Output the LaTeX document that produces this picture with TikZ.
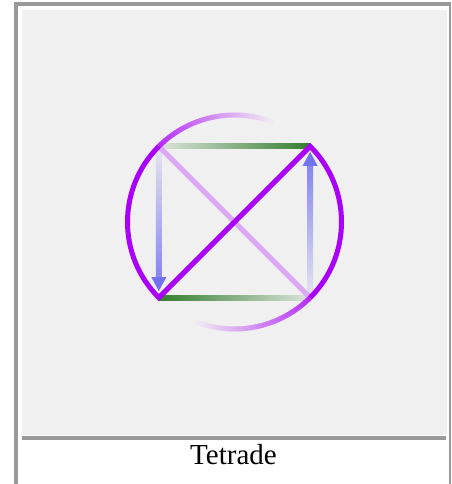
\documentclass[tikz,border=0pt]{standalone}
\usepackage{fontspec}
\setmainfont{Liberation Serif}
\usetikzlibrary{calc}
\definecolor{bg}{RGB}{240,240,240}
\definecolor{framegray}{RGB}{153,153,153}
\definecolor{purp}{RGB}{170,0,250}
\definecolor{gdark}{RGB}{50,125,45}
\definecolor{ablue}{RGB}{115,115,240}
\begin{document}
\begin{tikzpicture}[x=1pt,y=1pt,
  arcline/.style={line width=5pt},
  thinline/.style={line width=5pt}]
\useasboundingbox (0,0) rectangle (451,484);
\fill[white] (0,0) rectangle (451,484);
% frame
\fill[framegray] (14,0) rectangle (18,482);
\fill[framegray] (14,478) rectangle (451,482);
\fill[framegray] (449,0) rectangle (451,482);
\fill[bg] (22,49.3) rectangle (446.7,474);
\fill[framegray] (22,44) rectangle (446,48);
\node[anchor=base, font=\fontsize{29}{31}\selectfont, inner sep=0pt] (cap) at (233.5,19) {Tetrade};
% geometry
\def\R{107}
\coordinate (c) at (234.5,262);
\coordinate (tl) at ($(c)+(135:\R)$);
\coordinate (tr) at ($(c)+(45:\R)$);
\coordinate (bl) at ($(c)+(225:\R)$);
\coordinate (br) at ($(c)+(-45:\R)$);
% green lines
\shade[left color=gdark!10!bg, right color=gdark] ($(tl)+(0,-2.6)$) rectangle ($(tr)+(0,2.6)$);
\shade[left color=gdark, right color=gdark!10!bg] ($(bl)+(0,-2.6)$) rectangle ($(br)+(0,2.6)$);
% blue arrows
\shade[top color=ablue!10!bg, bottom color=ablue!85!bg] ($(tl)+(-3,-4)$) rectangle ($(bl)+(3,20)$);
\fill[ablue] ($(bl)+(-7.5,20.5)$) -- ($(bl)+(7.5,20.5)$) -- ($(bl)+(0,6.5)$) -- cycle;
\shade[top color=ablue!85!bg, bottom color=ablue!10!bg] ($(br)+(-3,2)$) rectangle ($(tr)+(3,-19)$);
\fill[ablue] ($(tr)+(-7.5,-19.5)$) -- ($(tr)+(7.5,-19.5)$) -- ($(tr)+(0,-5.5)$) -- cycle;
% light diagonal
\draw[purp!30!bg, thinline] (tl) -- (br);
% fading arcs
\foreach \i in {0,...,39}{
  \pgfmathsetmacro\a{135-\i*66/40}
  \pgfmathsetmacro\b{\a-66/40-0.4}
  \pgfmathsetmacro\aa{-45-\i*66/40}
  \pgfmathsetmacro\bb{\aa-66/40-0.4}
  \pgfmathtruncatemacro\f{82*(1-\i/40)}
  \draw[purp!\f!bg, arcline] ($(c)+(\a:\R)$) arc[start angle=\a, end angle=\b, radius=\R];
  \draw[purp!\f!bg, arcline] ($(c)+(\aa:\R)$) arc[start angle=\aa, end angle=\bb, radius=\R];
}
% bright path
\draw[purp, arcline, line join=miter] (tl) arc[start angle=135, end angle=225, radius=\R] -- (tr) arc[start angle=45, end angle=-45, radius=\R];
\end{tikzpicture}
\end{document}
